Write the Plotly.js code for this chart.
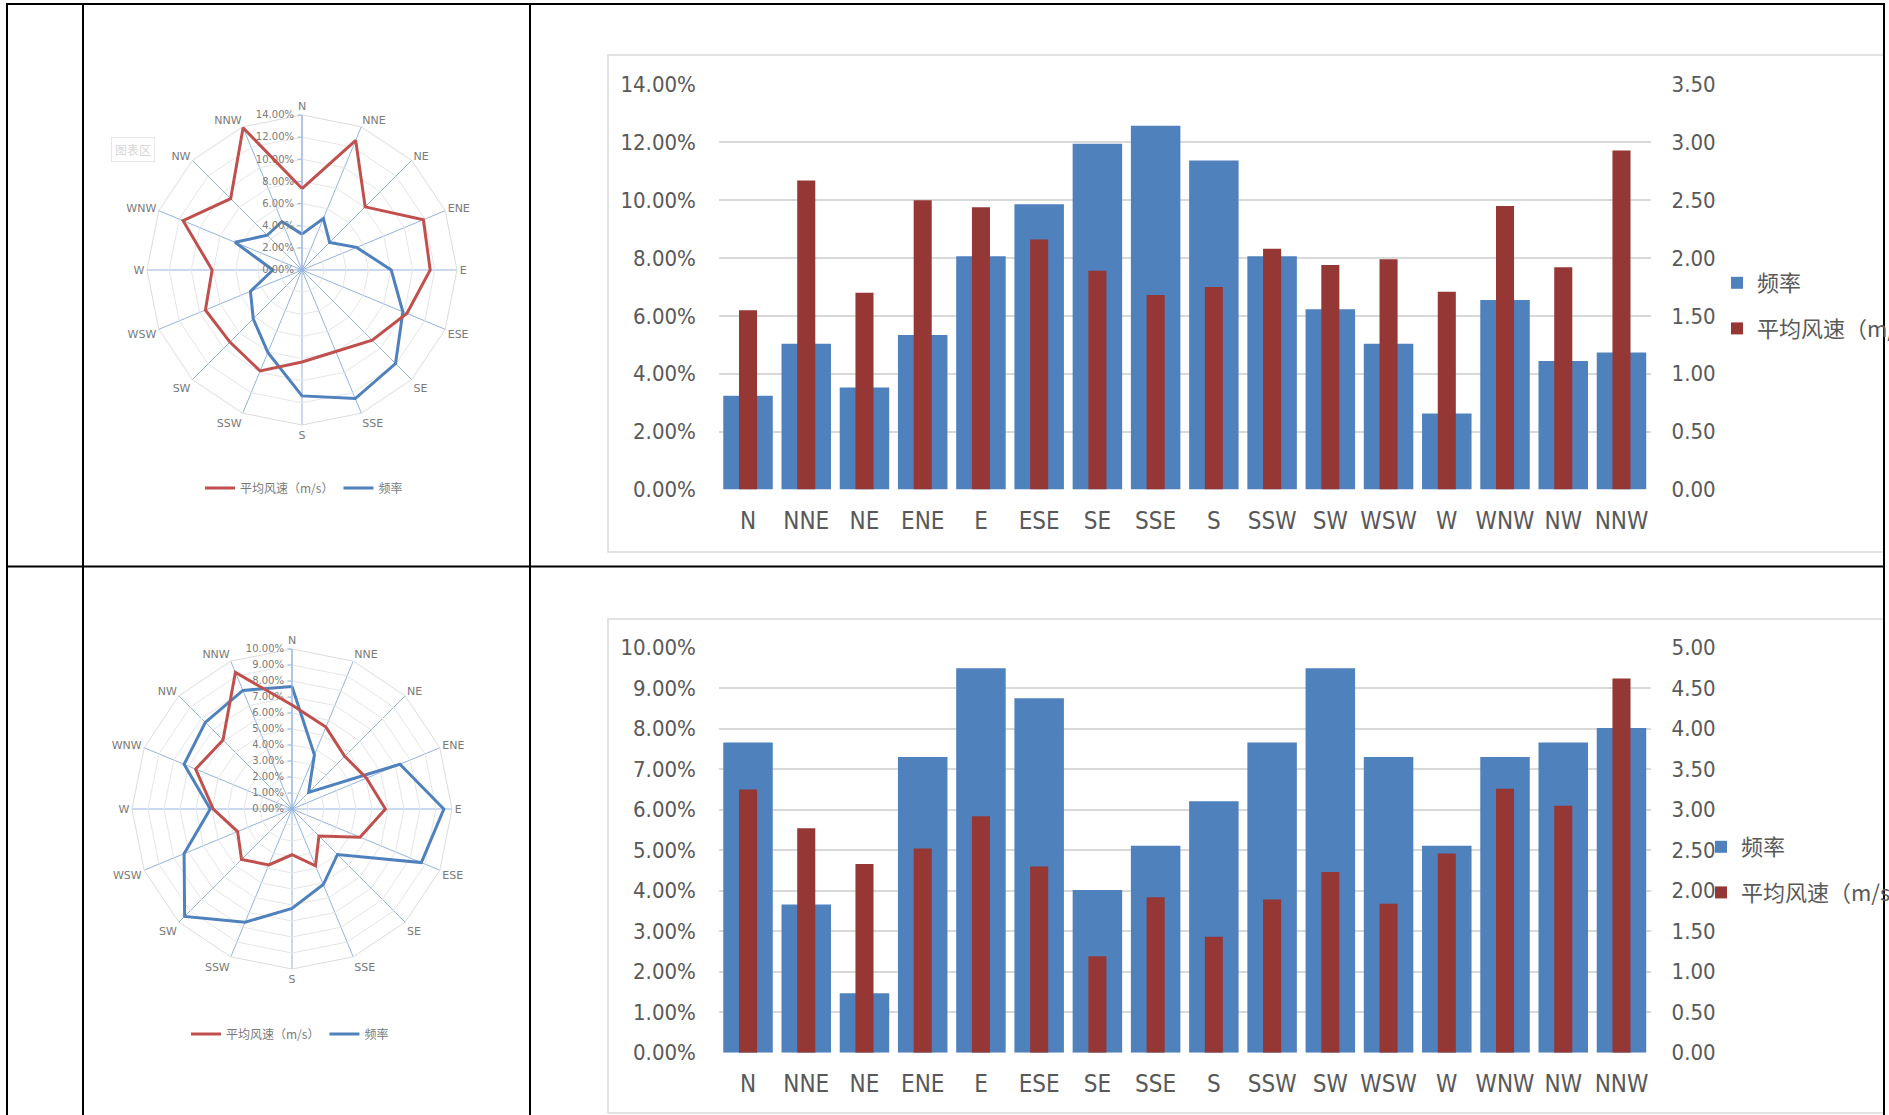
<!DOCTYPE html>
<html>
<head>
<meta charset="utf-8">
<script src="https://cdn.plot.ly/plotly-3.0.1.min.js"></script>
<style>
html,body{margin:0;padding:0;background:#fff;overflow:hidden;}
#chart{width:1889px;height:1115px;}
</style>
</head>
<body>
<div id="chart"></div>
<script>
// ---- data ----
const dirs = ['N','NNE','NE','ENE','E','ESE','SE','SSE','S','SSW','SW','WSW','W','WNW','NW','NNW'];
const freq1 = [0.0324,0.0504,0.0353,0.0534,0.0806,0.0986,0.1195,0.1257,0.1137,0.0806,0.0623,0.0504,0.0263,0.0655,0.0444,0.0474];
const speed1 = [1.55,2.67,1.70,2.50,2.44,2.16,1.89,1.68,1.75,2.08,1.94,1.99,1.71,2.45,1.92,2.93];
const freq2 = [0.0766,0.0366,0.0147,0.0730,0.0949,0.0875,0.0402,0.0511,0.0621,0.0766,0.0949,0.0730,0.0511,0.0730,0.0766,0.0802];
const speed2 = [3.25,2.77,2.33,2.52,2.92,2.30,1.19,1.92,1.43,1.89,2.23,1.84,2.46,3.26,3.05,4.62];
const nameFreq = '频率';
const nameSpeed = '平均风速（m/s）';

// ---- helpers ----
const W = 1889, H = 1115;
const px = x => x / W;
const py = y => 1 - y / H;
const closeLoop = arr => arr.concat([arr[0]]);

const BLUE_BAR = '#4f81bd', RED_BAR = '#953735';
const BLUE_LINE = '#4f81bd', RED_LINE = '#c0504d';
const FAM = '"Liberation Sans Narrow", "DejaVu Sans Condensed", sans-serif';
const catFont = {family: FAM, size: 24, color: '#595959'};
const numFont = {family: FAM, size: 22, color: '#595959'};
const cjkFont = {family: '"Noto Sans CJK SC", sans-serif', size: 22, color: '#595959'};
const radarFont = {family: '"DejaVu Sans", sans-serif', size: 11, color: '#7a7a7a'};
const radarTickFont = {family: '"DejaVu Sans", sans-serif', size: 10, color: '#7a7a7a'};
const radarLegFont = {family: '"Noto Sans CJK SC", sans-serif', size: 12, color: '#7a7a7a'};

const data = [];
// ---- radar 1 ----
data.push({type:'scatterpolar', subplot:'polar2', theta: closeLoop(dirs), r: closeLoop(speed1), mode:'lines',
  name: nameSpeed, line:{color:RED_LINE, width:3}, legend:'legend3', hoverinfo:'skip'});
data.push({type:'scatterpolar', subplot:'polar', theta: closeLoop(dirs), r: closeLoop(freq1), mode:'lines',
  name: nameFreq, line:{color:BLUE_LINE, width:3}, legend:'legend3', hoverinfo:'skip'});
// ---- radar 2 ----
data.push({type:'scatterpolar', subplot:'polar4', theta: closeLoop(dirs), r: closeLoop(speed2), mode:'lines',
  name: nameSpeed, line:{color:RED_LINE, width:3}, legend:'legend4', hoverinfo:'skip'});
data.push({type:'scatterpolar', subplot:'polar3', theta: closeLoop(dirs), r: closeLoop(freq2), mode:'lines',
  name: nameFreq, line:{color:BLUE_LINE, width:3}, legend:'legend4', hoverinfo:'skip'});
// ---- bar chart 1 ----
data.push({type:'bar', x: dirs, y: freq1, xaxis:'x', yaxis:'y', name: nameFreq, width:0.85,
  marker:{color:BLUE_BAR, line:{width:0}}, legend:'legend', legendgroup:'a1'});
data.push({type:'bar', x: dirs, y: speed1, xaxis:'x', yaxis:'y2', name: nameSpeed, width:0.31,
  marker:{color:RED_BAR, line:{width:0}}, legend:'legend', legendgroup:'b1'});
// ---- bar chart 2 ----
data.push({type:'bar', x: dirs, y: freq2, xaxis:'x2', yaxis:'y3', name: nameFreq, width:0.85,
  marker:{color:BLUE_BAR, line:{width:0}}, legend:'legend2', legendgroup:'a2'});
data.push({type:'bar', x: dirs, y: speed2, xaxis:'x2', yaxis:'y4', name: nameSpeed, width:0.31,
  marker:{color:RED_BAR, line:{width:0}}, legend:'legend2', legendgroup:'b2'});

function mainPolar(dom, rmax, dt){
  return {
    domain: dom, bgcolor:'rgba(0,0,0,0)', gridshape:'linear',
    angularaxis:{direction:'clockwise', rotation:90, type:'category', categoryorder:'array', categoryarray:dirs,
      showline:true, linecolor:'#dcdcdc', linewidth:1, gridcolor:'#95b3de', gridwidth:1,
      ticks:'', tickfont: radarFont},
    radialaxis:{range:[0,rmax], dtick:dt, tickformat:'.2%', angle:90, tickangle:90, side:'counterclockwise',
      showline:true, linecolor:'#95b3de', linewidth:1, gridcolor:'#e6e6e6', gridwidth:1,
      ticks:'outside', ticklen:4, tickcolor:'#95b3de', tickfont: radarTickFont}
  };
}
function overlayPolar(dom, rmax){
  return {
    domain: dom, bgcolor:'rgba(0,0,0,0)', gridshape:'linear',
    angularaxis:{direction:'clockwise', rotation:90, type:'category', categoryorder:'array', categoryarray:dirs,
      showline:false, showgrid:false, showticklabels:false, ticks:''},
    radialaxis:{range:[0,rmax], visible:false, showgrid:false, showline:false, showticklabels:false, ticks:''}
  };
}
const dom1 = {x:[px(147), px(457)], y:[py(425), py(115)]};
const dom2 = {x:[px(132), px(452)], y:[py(969), py(649)]};

const lineBlack = (x0,y0,x1,y1) => ({type:'line', xref:'paper', yref:'paper', x0:px(x0), y0:py(y0), x1:px(x1), y1:py(y1),
  line:{color:'#000', width:2}});
const frame = (x0,y0,x1,y1) => ({type:'rect', xref:'paper', yref:'paper', x0:px(x0), y0:py(y0), x1:px(x1), y1:py(y1),
  line:{color:'#d9d9d9', width:1.5}, layer:'below'});

const xAxisCommon = {type:'category', categoryorder:'array', categoryarray:dirs, range:[-0.5,15.5],
  showgrid:false, zeroline:false, showline:false, ticks:'', tickfont: catFont, ticklabelstandoff: 14, fixedrange:true};

const layout = {
  width: W, height: H, margin:{l:0,r:0,t:0,b:0,autoexpand:false}, paper_bgcolor:'#fff', plot_bgcolor:'rgba(0,0,0,0)',
  showlegend: true, barmode:'group', hovermode:false,
  polar: mainPolar(dom1, 0.14, 0.02),
  polar2: overlayPolar(dom1, 2.95),
  polar3: mainPolar(dom2, 0.10, 0.01),
  polar4: overlayPolar(dom2, 5),
  xaxis: Object.assign({domain:[px(718.9), px(1650.6)], anchor:'y'}, xAxisCommon),
  yaxis: {domain:[py(489.5), py(84.5)], range:[0,0.14], dtick:0.02, tickformat:'.2%', anchor:'x',
    showgrid:true, gridcolor:'#d9d9d9', gridwidth:2, zeroline:false, showline:false, ticks:'',
    tickfont: numFont, ticklabelstandoff: 22, fixedrange:true},
  yaxis2: {overlaying:'y', side:'right', anchor:'x', range:[0,3.5], dtick:0.5, tickformat:'.2f',
    showgrid:false, zeroline:false, showline:false, ticks:'', tickfont: numFont, ticklabelstandoff: 20, fixedrange:true},
  xaxis2: Object.assign({domain:[px(718.9), px(1650.6)], anchor:'y3'}, xAxisCommon),
  yaxis3: {domain:[py(1052.7), py(647.7)], range:[0,0.10], dtick:0.01, tickformat:'.2%', anchor:'x2',
    showgrid:true, gridcolor:'#d9d9d9', gridwidth:2, zeroline:false, showline:false, ticks:'',
    tickfont: numFont, ticklabelstandoff: 22, fixedrange:true},
  yaxis4: {overlaying:'y3', side:'right', anchor:'x2', range:[0,5], dtick:0.5, tickformat:'.2f',
    showgrid:false, zeroline:false, showline:false, ticks:'', tickfont: numFont, ticklabelstandoff: 20, fixedrange:true},
  legend: {x:px(1717), xanchor:'left', y:py(262), yanchor:'top', orientation:'v', traceorder:'grouped',
    tracegroupgap:14, font: cjkFont, bgcolor:'rgba(0,0,0,0)', borderwidth:0},
  legend2: {x:px(1701), xanchor:'left', y:py(826), yanchor:'top', orientation:'v', traceorder:'grouped',
    tracegroupgap:14, font: cjkFont, bgcolor:'rgba(0,0,0,0)', borderwidth:0},
  legend3: {x:px(304), xanchor:'center', y:py(488), yanchor:'middle', orientation:'h',
    font: radarLegFont, bgcolor:'rgba(0,0,0,0)'},
  legend4: {x:px(290), xanchor:'center', y:py(1034), yanchor:'middle', orientation:'h',
    font: radarLegFont, bgcolor:'rgba(0,0,0,0)'},
  shapes: [
    frame(608,55,1884,552), frame(608,619,1884,1113),
    lineBlack(6,4,1885,4), lineBlack(7,4,7,1115), lineBlack(83,4,83,1115),
    lineBlack(530,4,530,1115), lineBlack(1884,4,1884,1115), lineBlack(7,566.5,1884,566.5)
  ],
  annotations: [
    {xref:'paper', yref:'paper', x:px(133), y:py(150), xanchor:'center', yanchor:'middle', showarrow:false,
     text:'图表区', font:{family:'"Noto Sans CJK SC", sans-serif', size:12, color:'#d6d6d6'},
     bordercolor:'#e6e6e6', borderwidth:1, borderpad:3, bgcolor:'#fff'}
  ]
};

Plotly.newPlot('chart', data, layout, {displayModeBar:false, staticPlot:true});
</script>
</body>
</html>
